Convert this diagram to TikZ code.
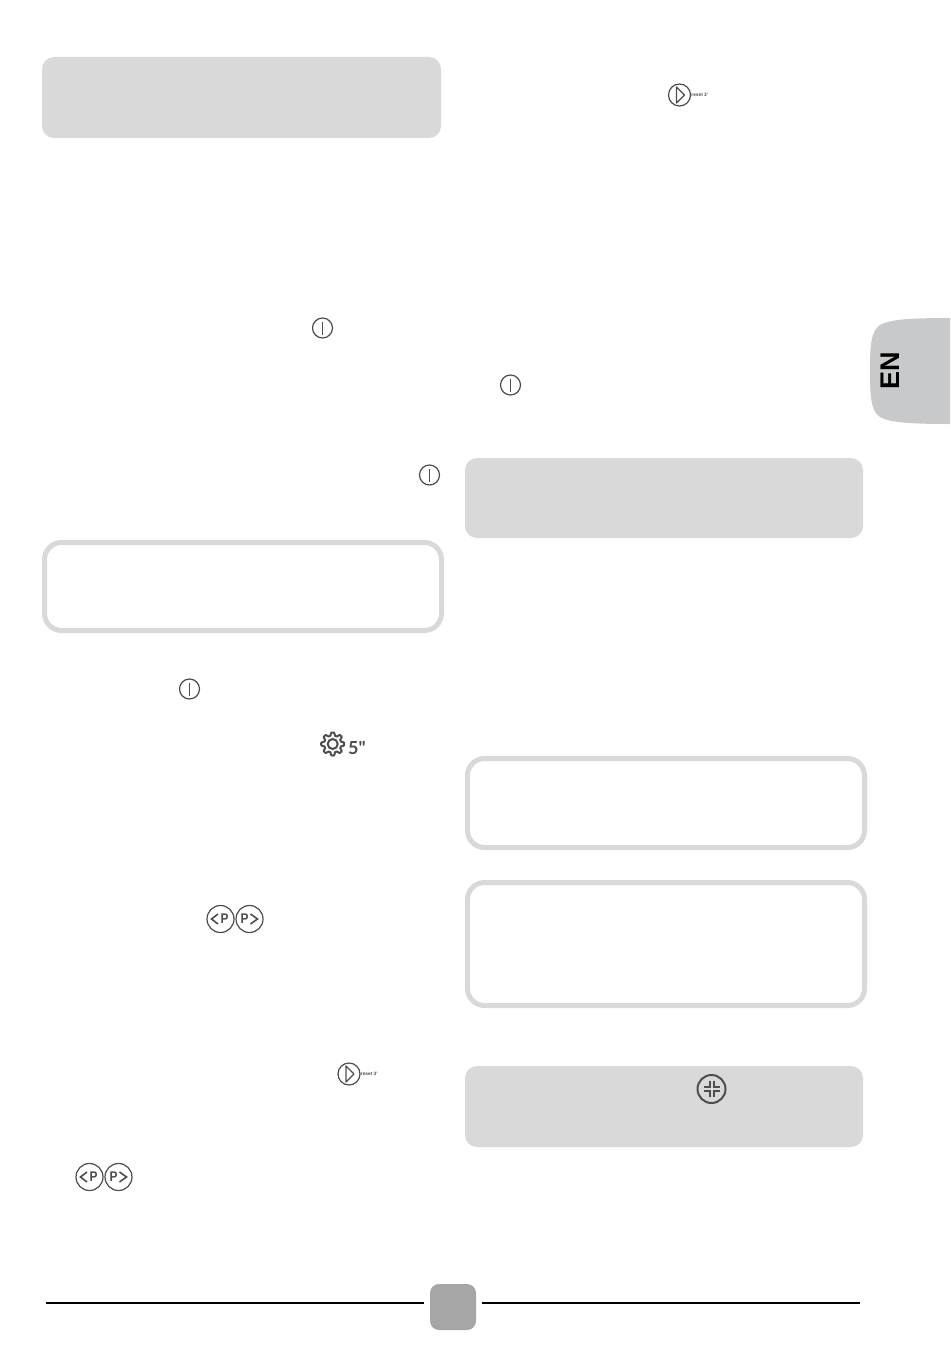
\documentclass[tikz,border=0pt]{standalone}
\usepackage{fontspec}
\setmainfont{Liberation Sans}
\newfontfamily\iconfont{Lato}
\definecolor{panelgray}{HTML}{D9D9D9}
\definecolor{tabgray}{HTML}{C8C9CB}
\definecolor{pagegray}{HTML}{A6A6A6}
\definecolor{icongray}{HTML}{4D4D4D}
\tikzset{
  panel/.style={fill=panelgray,rounded corners=6pt},
  framebox/.style={draw=panelgray,line width=2.5pt,rounded corners=8.5pt},
  iconline/.style={draw=icongray,line width=0.6pt},
  thickicon/.style={draw=icongray,line width=1pt},
  rule/.style={line width=1.25pt,black},
  powericon/.pic={
    \draw[iconline] (0,0) circle (10);
    \draw[iconline] (0,-6.5) -- (0,6.5);
  },
  playicon/.pic={
    \draw[iconline] (0,0) circle (11);
    \draw[iconline,line join=round] (-3,-8) -- (5,0) -- (-3,8) -- cycle;
    \node[font=\bfseries\fontsize{2.4pt}{3pt}\selectfont,text=icongray,inner sep=0pt,anchor=west] (-reset) at (11.5,0) {reset 3'};
  },
  pbuttons/.pic={
    \draw[iconline] (0,0) circle (13.5);
    \draw[iconline] (29,0) circle (13.5);
    \draw[iconline,line width=0.8pt] (-2.5,-5) -- (-9,0) -- (-2.5,5);
    \draw[iconline,line width=0.8pt] (30,-5) -- (37,0) -- (30,5);
    \node[font=\bfseries\fontsize{7pt}{8pt}\selectfont,text=icongray,inner sep=0pt,xscale=0.85] (-left) at (4,0) {P};
    \node[font=\bfseries\fontsize{7pt}{8pt}\selectfont,text=icongray,inner sep=0pt,xscale=0.85] (-right) at (24,0) {P};
  },
}
\begin{document}
\begin{tikzpicture}[x=0.5pt,y=-0.5pt]
  \useasboundingbox (0,0) rectangle (950,1348);
  % grey panels
  \fill[panel] (42,57) rectangle (441,138);
  \fill[panel] (465,458) rectangle (863,538);
  \fill[panel] (465,1066) rectangle (863,1147);
  % framed boxes
  \draw[framebox] (44.5,542.5) rectangle (441.5,630.5);
  \draw[framebox] (467.5,758.5) rectangle (864.5,847.5);
  \draw[framebox] (467.5,882.5) rectangle (864.5,1005.5);
  % language tab
  \fill[tabgray] (950,318) .. controls (915,318) and (890,319) .. (880,325)
    .. controls (871,331) and (870,345) .. (870,371)
    .. controls (870,397) and (871,411) .. (880,417)
    .. controls (890,423) and (915,424) .. (950,424) -- cycle;
  \node[rotate=90,font=\bfseries\fontsize{13.5pt}{15pt}\selectfont,inner sep=0pt] (lang) at (890.5,371) {EN};
  % power buttons
  \pic (powera) at (322.5,328) {powericon};
  \pic (powerb) at (429.5,475) {powericon};
  \pic (powerc) at (189.5,689) {powericon};
  \pic (powerd) at (510.5,385) {powericon};
  % start buttons
  \pic (playa) at (349,1074) {playicon};
  \pic (playb) at (679.5,95) {playicon};
  % programme buttons
  \pic (proga) at (220.5,919) {pbuttons};
  \pic (progb) at (89.5,1177) {pbuttons};
  % settings
  \begin{scope}[shift={(332.7,744)}]
    \draw[thickicon,line join=round] plot[domain=0:358,samples=180] (\x:{10+1.5*max(-1,min(1,1.6*cos(8*\x)))}) -- cycle;
    \draw[thickicon] (0,0) circle (5);
  \end{scope}
  \node[font=\iconfont\bfseries\fontsize{9pt}{10pt}\selectfont,text=icongray,inner sep=0pt] (delay) at (357,748) {5"};
  % lock
  \draw[thickicon] (711.5,1089) circle (14);
  \coordinate (lockc) at (711.5,1089);
  \foreach \sx/\sy in {1/1,1/-1,-1/1,-1/-1}
    \draw[thickicon] ([shift={(\sx*2,\sy*8)}]lockc) -- ([shift={(\sx*2,\sy*2)}]lockc) -- ([shift={(\sx*8,\sy*2)}]lockc);
  % foot
  \draw[rule] (46,1303) -- (424,1303);
  \draw[rule] (482,1303) -- (860,1303);
  \fill[pagegray,rounded corners=4.5pt] (430,1284) rectangle (476,1330);
\end{tikzpicture}
\end{document}
